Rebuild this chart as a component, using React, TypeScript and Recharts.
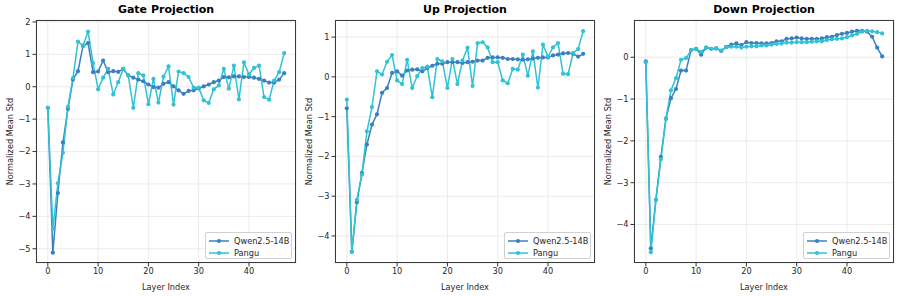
import React from "react"
import { LineChart, Line, XAxis, YAxis, CartesianGrid } from "recharts"

const layers = [
  0, 1, 2, 3, 4, 5, 6, 7, 8, 9, 10, 11, 12, 13, 14, 15, 16, 17, 18, 19, 20, 21, 22, 23,
  24, 25, 26, 27, 28, 29, 30, 31, 32, 33, 34, 35, 36, 37, 38, 39, 40, 41, 42, 43, 44, 45, 46, 47,
]

const gateQwen = [
  -0.65, -5.12, -3.28, -1.72, -0.68, 0.22, 0.48, 1.26, 1.35, 0.45, 0.47, 0.81, 0.45, 0.48, 0.46, 0.55,
  0.35, 0.28, 0.22, 0.17, 0.07, -0.01, -0.03, 0.09, 0.14, 0.01, -0.11, -0.22, -0.13, -0.11, -0.05, 0.01,
  0.07, 0.14, 0.19, 0.3, 0.29, 0.32, 0.32, 0.3, 0.3, 0.28, 0.24, 0.19, 0.13, 0.13, 0.22, 0.42,
]
const gatePangu = [
  -0.65, -4.39, -2.98, -2.04, -0.62, 0.27, 1.39, 1.27, 1.7, 0.73, -0.08, 0.28, 0.55, -0.24, 0.14, 0.55,
  0.35, -0.65, 0.42, 0.35, -0.54, 0.24, -0.49, 0.31, 0.63, -0.55, 0.47, 0.42, 0.3, -0.03, -0.03, -0.42,
  -0.5, -0.08, 0.04, 0.55, -0.06, 0.65, -0.39, 0.75, 0.38, 0.58, 0.65, -0.32, -0.4, 0.19, 0.45, 1.04,
]

const upQwen = [
  -0.79, -4.4, -3.15, -2.42, -1.7, -1.2, -0.94, -0.4, -0.28, 0.1, 0.14, 0.03, 0.16, 0.18, 0.19, 0.14,
  0.22, 0.28, 0.33, 0.33, 0.37, 0.37, 0.37, 0.35, 0.37, 0.38, 0.41, 0.41, 0.48, 0.49, 0.49, 0.48,
  0.45, 0.45, 0.44, 0.43, 0.44, 0.46, 0.48, 0.49, 0.49, 0.54, 0.56, 0.59, 0.6, 0.58, 0.51, 0.58,
]
const upPangu = [
  -0.57, -4.4, -3.09, -2.46, -1.37, -0.76, 0.14, 0.06, 0.38, 0.55, -0.09, -0.18, 0.43, -0.28, 0.02, 0.22,
  0.26, -0.51, 0.45, 0.39, -0.28, 0.45, -0.18, 0.41, 0.73, -0.23, 0.85, 0.87, 0.74, 0.37, 0.37, -0.09,
  -0.16, 0.2, 0.18, 0.56, 0.03, 0.64, -0.27, 0.81, 0.51, 0.74, 0.85, 0.08, 0.07, 0.6, 0.7, 1.15,
]

const downQwen = [
  -0.1, -4.57, -3.41, -2.38, -1.47, -0.98, -0.76, -0.32, -0.32, 0.17, 0.2, 0.06, 0.23, 0.2, 0.21, 0.15,
  0.25, 0.3, 0.33, 0.29, 0.36, 0.34, 0.34, 0.33, 0.33, 0.34, 0.38, 0.38, 0.44, 0.45, 0.47, 0.45,
  0.44, 0.44, 0.44, 0.45, 0.48, 0.49, 0.53, 0.56, 0.58, 0.61, 0.63, 0.63, 0.61, 0.49, 0.23, 0.02,
]
const downPangu = [
  -0.12, -4.66, -3.41, -2.44, -1.47, -0.79, -0.5, -0.06, -0.02, 0.17, 0.2, 0.13, 0.23, 0.2, 0.21, 0.16,
  0.24, 0.25, 0.25, 0.23, 0.25, 0.26, 0.26, 0.28, 0.28, 0.3, 0.32, 0.33, 0.35, 0.35, 0.36, 0.36,
  0.36, 0.37, 0.38, 0.38, 0.41, 0.43, 0.44, 0.45, 0.48, 0.52, 0.56, 0.61, 0.63, 0.62, 0.6, 0.57,
]

const xTicks = [0, 10, 20, 30, 40]
const gateTicks = [-5, -4, -3, -2, -1, 0, 1, 2]
const upTicks = [-4, -3, -2, -1, 0, 1]
const downTicks = [-4, -3, -2, -1, 0]

const QWEN = "#3a80c0"
const PANGU = "#31c2d4"
const FONT = "'DejaVu Sans', sans-serif"

const fmt = (v: number) => String(v).replace("-", "\u2212")

interface PanelProps {
  title: string
  left: number
  qwen: number[]
  pangu: number[]
  domain: [number, number]
  ticks: number[]
}

function Panel({ title, left, qwen, pangu, domain, ticks }: PanelProps) {
  const data = layers.map((layer, i) => ({ layer, qwen: qwen[i], pangu: pangu[i] }))
  const tickStyle = { fontSize: 8.2, fill: "#262626", fontFamily: FONT }

  return (
    <div style={{ position: "absolute", left, top: 0, width: 300, height: 296 }}>
      <div
        style={{
          position: "absolute",
          left: 36,
          width: 260,
          top: 3,
          textAlign: "center",
          fontFamily: FONT,
          fontWeight: "bold",
          fontSize: 11,
          color: "#000",
        }}
      >
        {title}
      </div>
      <LineChart width={300} height={296} data={data} margin={{ top: 20, right: 4, bottom: 0, left: 0 }}>
        <CartesianGrid stroke="#e6e6e6" strokeWidth={0.8} />
        <XAxis
          dataKey="layer"
          type="number"
          domain={[-2.35, 49.35]}
          ticks={xTicks}
          height={33}
          axisLine={false}
          tickLine={{ stroke: "#333" }}
          tickSize={3.5}
          tickMargin={2}
          tick={tickStyle}
          allowDataOverflow
          label={{
            value: "Layer Index",
            position: "insideBottom",
            offset: 6,
            style: { fontSize: 8.2, fill: "#262626", fontFamily: FONT },
          }}
        />
        <YAxis
          type="number"
          domain={domain}
          ticks={ticks}
          width={36}
          axisLine={false}
          tickLine={{ stroke: "#333" }}
          tickSize={3.5}
          tickMargin={2}
          tick={tickStyle}
          tickFormatter={fmt}
          allowDataOverflow
          label={{
            value: "Normalized Mean Std",
            angle: -90,
            position: "insideLeft",
            offset: 10,
            style: { fontSize: 8.2, fill: "#262626", fontFamily: FONT, textAnchor: "middle" },
          }}
        />
        <Line
          dataKey="qwen"
          stroke={QWEN}
          strokeWidth={1.5}
          dot={{ r: 2.1, fill: QWEN, stroke: QWEN, strokeWidth: 0 }}
          activeDot={false}
          isAnimationActive={false}
        />
        <Line
          dataKey="pangu"
          stroke={PANGU}
          strokeWidth={1.5}
          dot={{ r: 2.1, fill: PANGU, stroke: PANGU, strokeWidth: 0 }}
          activeDot={false}
          isAnimationActive={false}
        />
      </LineChart>
      <div
        style={{
          position: "absolute",
          left: 36,
          top: 20,
          width: 260,
          height: 243,
          boxSizing: "border-box",
          border: "1px solid #3a3a3a",
          pointerEvents: "none",
        }}
      />
      <div
        style={{
          position: "absolute",
          left: 205,
          top: 232,
          width: 87,
          height: 27,
          boxSizing: "border-box",
          border: "1px solid #d0d0d0",
          borderRadius: 2,
          background: "rgba(255,255,255,0.85)",
          fontFamily: FONT,
          fontSize: 8.2,
          color: "#262626",
        }}
      >
        {[
          { name: "Qwen2.5-14B", color: QWEN },
          { name: "Pangu", color: PANGU },
        ].map((s, i) => (
          <div key={s.name} style={{ position: "absolute", left: 2, top: 2 + i * 12.4, height: 12, display: "flex", alignItems: "center" }}>
            <svg width={22} height={12}>
              <line x1={1} y1={6} x2={21} y2={6} stroke={s.color} strokeWidth={1.5} />
              <circle cx={11} cy={6} r={2.1} fill={s.color} />
            </svg>
            <span style={{ marginLeft: 4, lineHeight: "12px" }}>{s.name}</span>
          </div>
        ))}
      </div>
    </div>
  )
}

export default function App() {
  return (
    <div style={{ position: "fixed", left: 0, top: 0, width: 902, height: 296, background: "#fff" }}>
      <Panel title="Gate Projection" left={0} qwen={gateQwen} pangu={gatePangu} domain={[-5.44, 2.06]} ticks={gateTicks} />
      <Panel title="Up Projection" left={299} qwen={upQwen} pangu={upPangu} domain={[-4.68, 1.43]} ticks={upTicks} />
      <Panel title="Down Projection" left={598} qwen={downQwen} pangu={downPangu} domain={[-4.92, 0.89]} ticks={downTicks} />
    </div>
  )
}
